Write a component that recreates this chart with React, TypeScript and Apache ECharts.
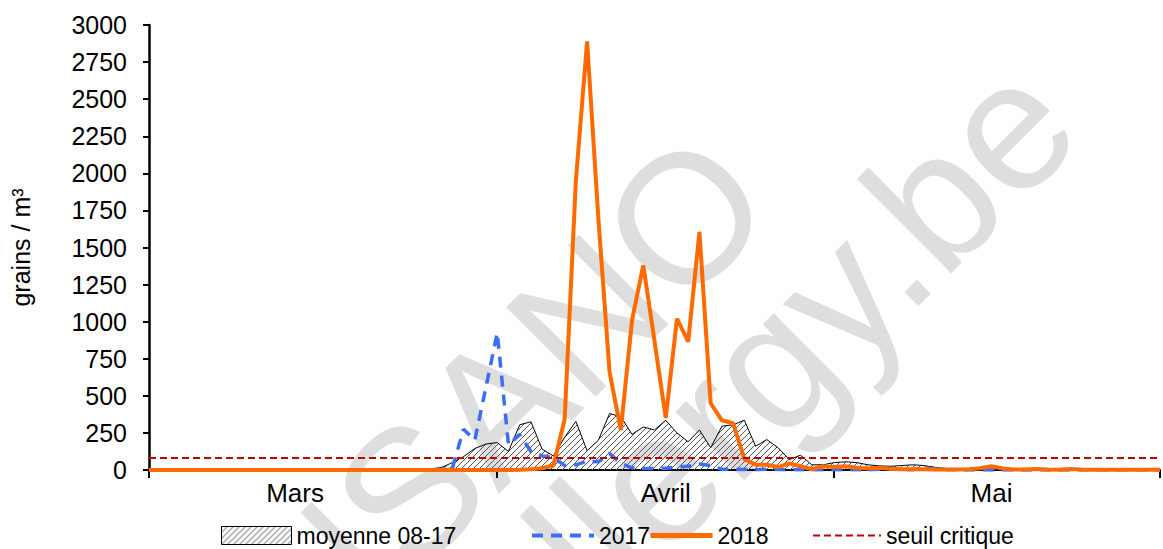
import React, { useEffect, useRef } from "react";
import * as echarts from "echarts";

// ---- data ----
const MONTH_DAYS = [31, 30, 30];
const MONTH_NAMES = ["Mars", "Avril", "Mai"];
const MONTH_LABEL_INDEX = [13, 46, 75];
const MONTH_TICK_INDEX = [0, 31, 61, 90];

const categories: string[] = [];
MONTH_DAYS.forEach((n, m) => {
  for (let d = 1; d <= n; d++) categories.push(`${d}/${m + 3}`);
});

const moyenne = [
  0, 0, 0, 0, 0, 0, 0, 0, 0, 0,
  0, 0, 0, 0, 0, 0, 0, 0, 0, 0,
  0, 1, 2, 3, 5, 8, 15, 50, 90, 145,
  175, 185, 125, 305, 325, 140, 95, 220, 328, 130,
  200, 380, 360, 240, 290, 270, 335, 250, 190, 270,
  150, 295, 305, 335, 160, 205, 150, 70, 100, 35,
  35, 50, 55, 50, 35, 28, 25, 30, 35, 30,
  18, 10, 8, 6, 8, 12, 6, 5, 4, 5,
  4, 3, 4, 3, 2, 2, 2, 1, 1, 1,
  1,
];

const y2017 = [
  0, 0, 0, 0, 0, 0, 0, 0, 0, 0,
  0, 0, 0, 0, 0, 0, 0, 0, 0, 0,
  0, 0, 0, 0, 0, 0, 2, 10, 275, 200,
  560, 925, 170, 240, 125, 95, 85, 30, 35, 60,
  55, 110, 45, 15, 10, 10, 12, 20, 25, 40,
  30, 5, 5, 3, 2, 5, 3, 2, 1, 2,
  1, 3, 2, 1, 2, 5, 8, 3, 2, 15,
  5, 1, 1, 0, 0, 0, 0, 0, 0, 0,
  0, 0, 0, 0, 0, 0, 0, 0, 0, 0,
  0,
];

const y2018 = [
  0, 0, 0, 0, 0, 0, 0, 0, 0, 0,
  0, 0, 0, 0, 0, 0, 0, 0, 0, 0,
  0, 0, 0, 0, 0, 0, 0, 0, 0, 0,
  0, 0, 0, 2, 5, 12, 30, 340, 1950, 2890,
  1700, 660, 270, 1010, 1380, 870, 350, 1020, 865, 1605,
  450, 335, 315, 75, 35, 35, 20, 45, 25, 5,
  25, 20, 25, 15, 10, 15, 8, 5, 5, 5,
  3, 3, 3, 5, 12, 25, 10, 3, 3, 6,
  3, 2, 6, 3, 2, 1, 1, 1, 1, 1,
  1,
];

const SEUIL = 80;
const SERIES_NAMES = ["moyenne 08-17", "2017", "2018", "seuil critique"];
const WATERMARK = ["SCIENSANO", "allergy.be"];

const FONT = "'Liberation Sans', Arial, sans-serif";

function makeHatch() {
  const c = document.createElement("canvas");
  c.width = 6;
  c.height = 6;
  const ctx = c.getContext("2d")!;
  ctx.strokeStyle = "#555";
  ctx.lineWidth = 1;
  ctx.beginPath();
  ctx.moveTo(0, 6);
  ctx.lineTo(6, 0);
  ctx.moveTo(-1, 1);
  ctx.lineTo(1, -1);
  ctx.moveTo(5, 7);
  ctx.lineTo(7, 5);
  ctx.stroke();
  return { image: c, repeat: "repeat", imageWidth: 6, imageHeight: 6 } as any;
}

export default function App() {
  const ref = useRef<HTMLDivElement>(null);
  useEffect(() => {
    if (!ref.current) return;
    const chart = echarts.init(ref.current, null, { renderer: "svg" });
    const hatch = makeHatch();
    const legendBase = {
      top: 524,
      padding: 0,
      itemHeight: 18,
      textStyle: { fontSize: 23, color: "#000", fontFamily: FONT },
      selectedMode: false,
    };
    const rot = (45 * Math.PI) / 180;
    const wmStyle = {
      fontSize: 184,
      fontFamily: FONT,
      fill: "#dedede",
      align: "right",
      verticalAlign: "middle",
    };
    chart.setOption({
      animation: false,
      backgroundColor: "#fff",
      grid: { left: 149, right: 3, top: 25, bottom: 79, containLabel: false },
      graphic: [
        {
          type: "text",
          x: 735,
          y: 167,
          rotation: rot,
          z: -10,
          silent: true,
          style: { ...wmStyle, text: WATERMARK[0] },
        },
        {
          type: "text",
          x: 1042,
          y: 92,
          rotation: rot,
          z: -10,
          silent: true,
          style: { ...wmStyle, text: WATERMARK[1] },
        },
      ],
      legend: [
        {
          ...legendBase,
          left: 221,
          itemWidth: 70,
          data: [
            {
              name: SERIES_NAMES[0],
              icon: "rect",
              itemStyle: { color: hatch, borderColor: "#000", borderWidth: 1 },
            },
          ],
        },
        {
          ...legendBase,
          left: 530,
          itemWidth: 62,
          data: [SERIES_NAMES[1]],
          itemStyle: { opacity: 0 },
          lineStyle: { width: 4 },
        },
        {
          ...legendBase,
          left: 648,
          itemWidth: 62,
          data: [SERIES_NAMES[2]],
          itemStyle: { opacity: 0 },
          lineStyle: { width: 5 },
        },
        {
          ...legendBase,
          left: 812,
          itemWidth: 68,
          data: [SERIES_NAMES[3]],
          itemStyle: { opacity: 0 },
          lineStyle: { width: 2 },
        },
      ],
      xAxis: {
        type: "category",
        data: categories,
        boundaryGap: false,
        axisLine: { lineStyle: { color: "#000", width: 2 } },
        axisTick: {
          show: true,
          length: 8,
          lineStyle: { color: "#000", width: 2 },
          interval: (i: number) => MONTH_TICK_INDEX.includes(i),
        },
        axisLabel: {
          interval: (i: number) => MONTH_LABEL_INDEX.includes(i),
          formatter: (_v: string, i: number) => MONTH_NAMES[MONTH_LABEL_INDEX.indexOf(i)] ?? "",
          fontSize: 26,
          color: "#000",
          fontFamily: FONT,
          margin: 10,
        },
        splitLine: { show: false },
      },
      yAxis: {
        type: "value",
        min: 0,
        max: 3000,
        interval: 250,
        name: "grains / m³",
        nameLocation: "middle",
        nameRotate: 90,
        nameGap: 116,
        nameTextStyle: { fontSize: 25, color: "#000", fontFamily: FONT },
        axisLine: { show: true, lineStyle: { color: "#000", width: 2.5 } },
        axisTick: { show: true, length: 6, lineStyle: { color: "#000", width: 2 } },
        axisLabel: {
          fontSize: 25,
          color: "#000",
          fontFamily: FONT,
          margin: 22,
          formatter: (v: number) => String(v),
        },
        splitLine: { show: false },
      },
      series: [
        {
          name: SERIES_NAMES[0],
          type: "line",
          data: moyenne,
          symbol: "none",
          color: "#000",
          lineStyle: { color: "#000", width: 1 },
          areaStyle: { color: hatch, opacity: 1 },
          z: 1,
        },
        {
          name: SERIES_NAMES[1],
          type: "line",
          data: y2017,
          symbol: "none",
          color: "#3b6ef5",
          lineStyle: { color: "#3b6ef5", width: 3.5, type: [11, 8] },
          z: 2,
        },
        {
          name: SERIES_NAMES[3],
          type: "line",
          data: [],
          symbol: "none",
          color: "#c00000",
          lineStyle: { color: "#c00000", width: 2, type: [7, 4] },
          markLine: {
            silent: true,
            symbol: "none",
            label: { show: false },
            lineStyle: { color: "#c00000", width: 2, type: [7, 4] },
            data: [{ yAxis: SEUIL }],
          },
          z: 3,
        },
        {
          name: SERIES_NAMES[2],
          type: "line",
          data: y2018,
          symbol: "none",
          color: "#ff6a00",
          lineStyle: { color: "#ff6a00", width: 4 },
          z: 4,
        },
      ],
    });
    return () => chart.dispose();
  }, []);
  return (
    <div
      ref={ref}
      style={{ position: "absolute", left: 0, top: 0, width: 1163, height: 549 }}
    />
  );
}
